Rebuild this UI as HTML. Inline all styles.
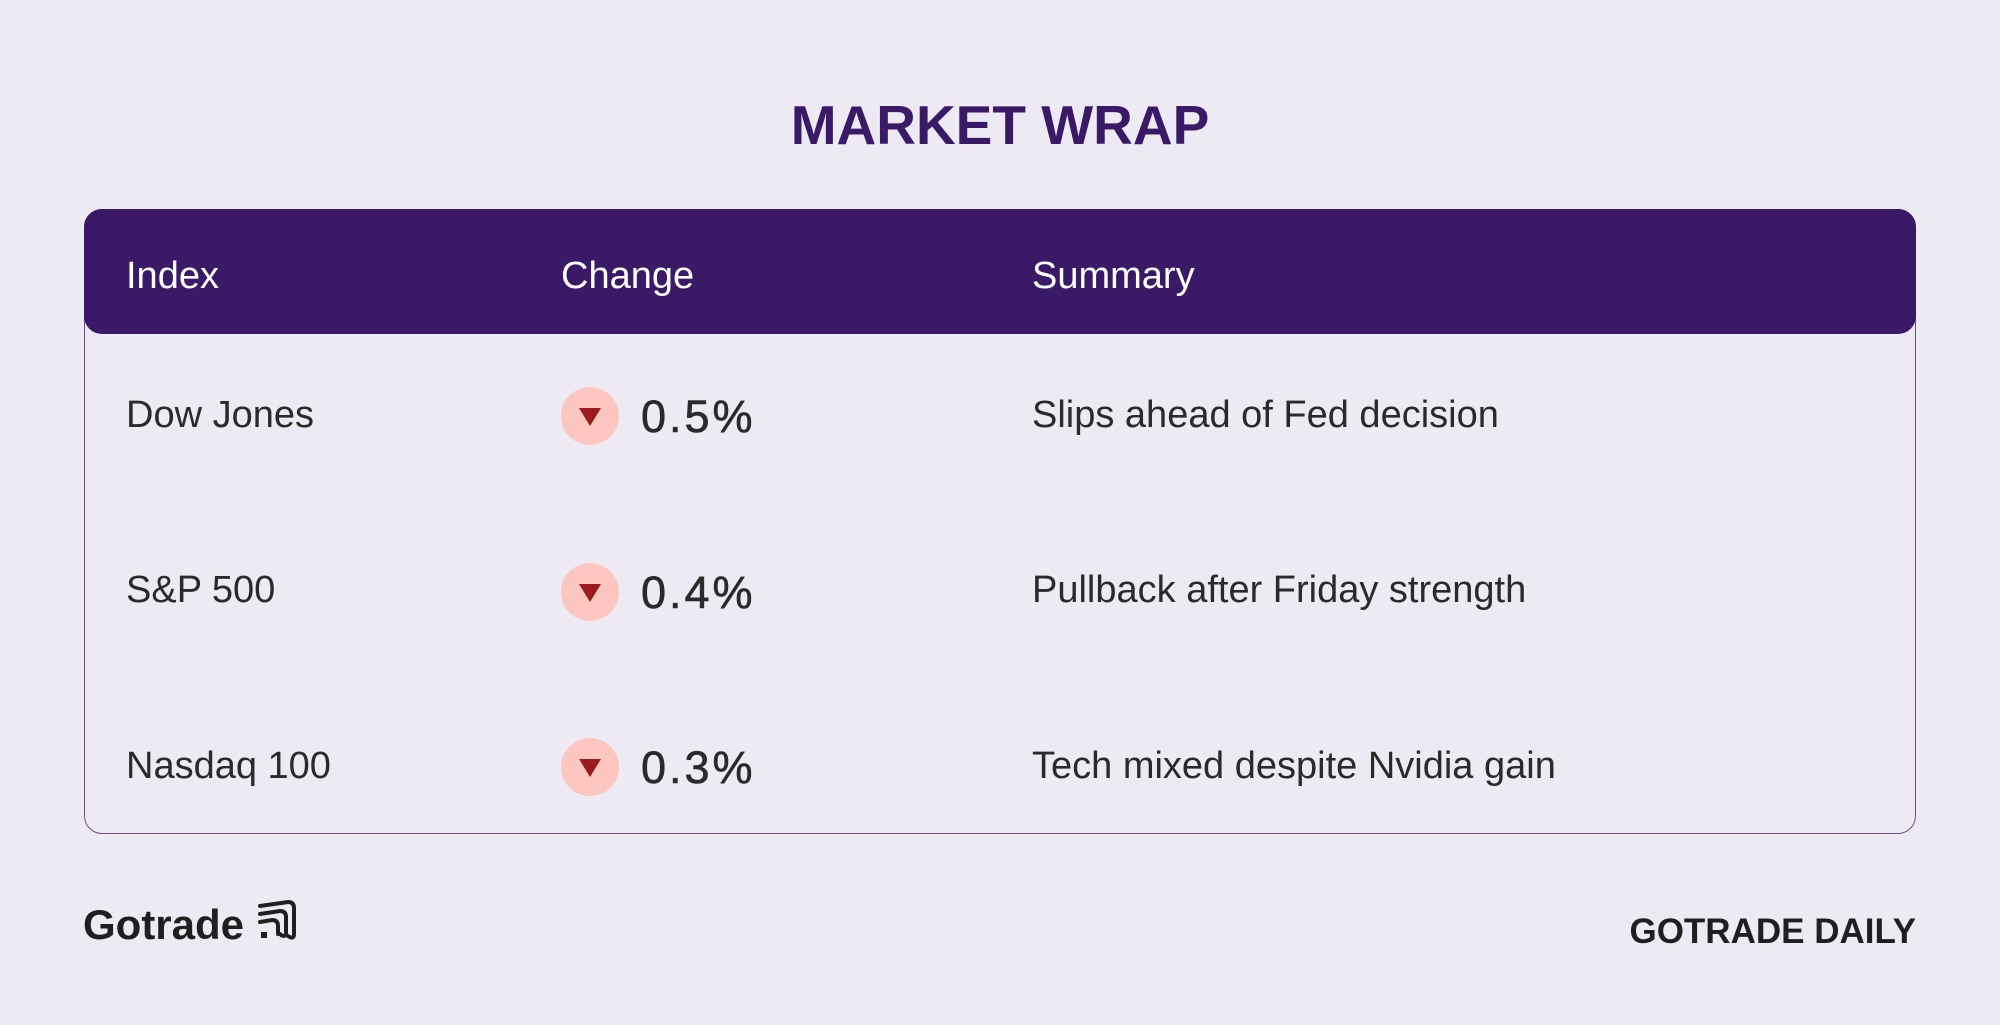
<!DOCTYPE html>
<html><head><meta charset="utf-8"><style>
body{margin:0;width:2000px;height:1025px;background:#edeaf3;font-family:"Liberation Sans",sans-serif;position:relative;overflow:hidden}
.t{position:absolute;white-space:nowrap}
.title{left:0;width:2000px;text-align:center;top:93px;font-size:55px;font-weight:900;color:#3a1a66}
.tbl{position:absolute;left:84px;top:209px;width:1832px;height:625px;border:1.5px solid #6a4f96;border-radius:18px;box-sizing:border-box}
.hdr{position:absolute;left:84px;top:209px;width:1832px;height:125px;background:#3a1a66;border-radius:18px}
.h{color:#fff;font-size:38px;top:255px}
.r{color:#2a2a2a;font-size:38px}
.c{position:absolute;width:58px;height:58px;border-radius:50%;background:#fdc6c0;left:561px}
.c:after{content:"";position:absolute;left:18px;top:21px;border-left:11px solid transparent;border-right:11px solid transparent;border-top:18px solid #9b1c1c}
.p{color:#2a2a2a;font-size:45px;left:641px;letter-spacing:3px;-webkit-text-stroke:0.6px #2a2a2a}
</style></head><body>
<div class="t title">MARKET WRAP</div>
<div class="tbl"></div>
<div class="hdr"></div>
<div class="t h" style="left:126px">Index</div>
<div class="t h" style="left:561px">Change</div>
<div class="t h" style="left:1032px">Summary</div>

<div class="t r" style="left:126px;top:394px">Dow Jones</div>
<div class="c" style="top:387px"></div>
<div class="t p" style="top:391px">0.5%</div>
<div class="t r" style="left:1032px;top:394px">Slips ahead of Fed decision</div>

<div class="t r" style="left:126px;top:569px">S&amp;P 500</div>
<div class="c" style="top:563px"></div>
<div class="t p" style="top:567px">0.4%</div>
<div class="t r" style="left:1032px;top:569px">Pullback after Friday strength</div>

<div class="t r" style="left:126px;top:745px">Nasdaq 100</div>
<div class="c" style="top:738px"></div>
<div class="t p" style="top:742px">0.3%</div>
<div class="t r" style="left:1032px;top:745px">Tech mixed despite Nvidia gain</div>

<div class="t" style="left:83px;top:901px;font-size:42px;font-weight:700;color:#1f1f1f">Gotrade</div>
<svg style="position:absolute;left:258px;top:900px" width="40" height="44" viewBox="0 0 40 44" fill="none" stroke="#1f1f1f" stroke-width="4" stroke-linecap="round">
<path d="M2 6 L30 2 Q36 2 36 8 L36 34 Q36 40 30 36"/><path d="M2 14 L22 11 Q28 11 28 17 L28 34 Q26 38 22 34"/><path d="M2 22 L14 20 Q20 20 20 26 L20 34"/><rect x="3" y="32" width="6" height="6" fill="#1f1f1f" stroke="none"/>
</svg>
<div class="t" style="right:84px;top:912px;font-size:35px;font-weight:900;color:#1f1f1f">GOTRADE DAILY</div>
</body></html>
